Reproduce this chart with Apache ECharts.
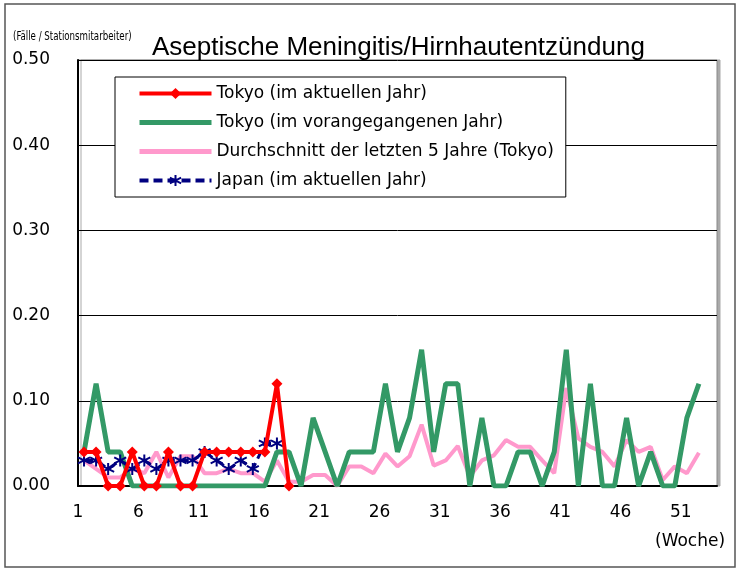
<!DOCTYPE html>
<html>
<head>
<meta charset="utf-8">
<script src="https://cdn.jsdelivr.net/npm/echarts@6/dist/echarts.min.js"></script>
<style>
  html, body { margin: 0; padding: 0; background: #fff; }
  #chart { width: 737px; height: 569px; }
</style>
</head>
<body>
<div id="chart"></div>
<script>
var weeks = [];
for (var i = 1; i <= 53; i++) weeks.push(String(i));

var tokyoNow = [0.04, 0.04, 0, 0, 0.04, 0, 0, 0.04, 0, 0, 0.04, 0.04, 0.04, 0.04, 0.04, 0.04, 0.12, 0];

var tokyoPrev = [0.04, 0.12, 0.04, 0.04, 0, 0, 0, 0, 0, 0, 0, 0, 0, 0, 0, 0, 0.04, 0.04, 0,
    0.08, 0.04, 0, 0.04, 0.04, 0.04, 0.12, 0.04, 0.08, 0.16, 0.04, 0.12, 0.12, 0, 0.08, 0, 0,
    0.04, 0.04, 0, 0.04, 0.16, 0, 0.12, 0, 0, 0.08, 0, 0.04, 0, 0, 0.08, 0.12];

var avg5 = [0.03, 0.02, 0.01, 0.01, 0.02, 0.015, 0.04, 0.01, 0.035, 0.035, 0.015, 0.015, 0.02, 0.015, 0.015, 0.005, 0.03, 0.005, 0.005,
    0.013, 0.013, 0, 0.023, 0.023, 0.015, 0.038, 0.023, 0.035, 0.072, 0.024, 0.03, 0.047, 0.011, 0.03, 0.036, 0.054,
    0.046, 0.046, 0.03, 0.015, 0.115, 0.056, 0.046, 0.04, 0.023, 0.054, 0.04, 0.046, 0.007, 0.023, 0.015, 0.039];

var japanNow = [0.03, 0.03, 0.02, 0.03, 0.02, 0.03, 0.02, 0.03, 0.03, 0.03, 0.04, 0.03, 0.02, 0.03, 0.02, 0.05, 0.05];

var names = ['Tokyo (im aktuellen Jahr)', 'Tokyo (im vorangegangenen Jahr)',
    'Durchschnitt der letzten 5 Jahre (Tokyo)', 'Japan (im aktuellen Jahr)'];

var font = 'DejaVu Sans, Verdana, sans-serif';
var star = 'path://M5,0L5,10M0.7,2.5L9.3,7.5M9.3,2.5L0.7,7.5';

var myChart = echarts.init(document.getElementById('chart'));

option = {
    backgroundColor: '#fff',
    animation: false,
    title: {
        text: 'Aseptische Meningitis/Hirnhautentzündung',
        left: 147,
        top: 30,
        textStyle: {
            fontFamily: 'Liberation Sans, Arial, sans-serif',
            fontSize: 26,
            fontWeight: 'normal',
            color: '#000'
        }
    },
    graphic: [
        {
            type: 'rect',
            shape: { x: 5, y: 4, width: 730, height: 563 },
            style: { fill: null, stroke: '#555', lineWidth: 1.5 },
            z: -1
        },
        {
            type: 'text',
            x: 13,
            y: 30,
            scaleX: 0.74,
            style: {
                text: '(Fälle / Stationsmitarbeiter)',
                font: '13px "Liberation Sans Narrow", "DejaVu Sans Condensed", "Liberation Sans", sans-serif',
                fill: '#000'
            }
        },
        {
            type: 'text',
            left: 655,
            top: 533,
            style: {
                text: '(Woche)',
                font: '17px ' + font,
                fill: '#000'
            }
        }
    ],
    legend: {
        orient: 'vertical',
        left: 115,
        top: 77,
        padding: [8, 12, 8, 22],
        itemWidth: 72,
        itemHeight: 14,
        itemGap: 12,
        borderColor: '#000',
        borderWidth: 1,
        backgroundColor: '#fff',
        textStyle: { fontFamily: font, fontSize: 17, color: '#000' },
        data: [
            { name: names[0], lineStyle: { width: 4 } },
            { name: names[1], itemStyle: { opacity: 0 }, lineStyle: { width: 5 } },
            { name: names[2], itemStyle: { opacity: 0 }, lineStyle: { width: 5 } },
            { name: names[3], lineStyle: { width: 4, type: [9, 5] } }
        ]
    },
    grid: {
        left: 78,
        right: 20,
        top: 60,
        bottom: 83,
        show: true,
        backgroundColor: '#fff',
        borderColor: '#888',
        borderWidth: 1,
        shadowColor: '#aaa',
        shadowOffsetX: 3,
        shadowOffsetY: 0,
        shadowBlur: 0
    },
    xAxis: {
        type: 'category',
        data: weeks,
        boundaryGap: true,
        axisLine: { lineStyle: { color: '#000', width: 2 } },
        axisTick: { interval: 4, inside: true, length: 5, lineStyle: { color: '#000' } },
        axisLabel: {
            interval: 4,
            margin: 18,
            padding: [0, 12, 0, 0],
            fontFamily: font,
            fontSize: 17,
            color: '#000'
        },
        splitLine: { show: false }
    },
    yAxis: {
        type: 'value',
        min: 0,
        max: 0.5,
        interval: 0.1,
        axisLine: { show: true, lineStyle: { color: '#000', width: 2 } },
        axisTick: { show: false },
        axisLabel: {
            margin: 28,
            fontFamily: font,
            fontSize: 17,
            color: '#000',
            formatter: function (v) { return v.toFixed(2); }
        },
        splitLine: { lineStyle: { color: '#000', width: 1 } }
    },
    series: [
        {
            name: names[0],
            type: 'line',
            data: tokyoNow,
            z: 5,
            symbol: 'diamond',
            symbolSize: 11,
            showAllSymbol: true,
            itemStyle: { color: '#ff0000' },
            lineStyle: { color: '#ff0000', width: 4 }
        },
        {
            name: names[1],
            type: 'line',
            data: tokyoPrev,
            z: 3,
            symbol: 'none',
            itemStyle: { color: '#339966' },
            lineStyle: { color: '#339966', width: 5 }
        },
        {
            name: names[2],
            type: 'line',
            data: avg5,
            z: 2,
            symbol: 'none',
            itemStyle: { color: '#ff99cc' },
            lineStyle: { color: '#ff99cc', width: 4 }
        },
        {
            name: names[3],
            type: 'line',
            data: japanNow,
            z: 4,
            symbol: star,
            symbolSize: 12,
            showAllSymbol: true,
            itemStyle: { color: '#000080', borderColor: '#000080', borderWidth: 2 },
            lineStyle: { color: '#000080', width: 3, type: [9, 5] }
        }
    ]
};

myChart.setOption(option);
</script>
</body>
</html>
